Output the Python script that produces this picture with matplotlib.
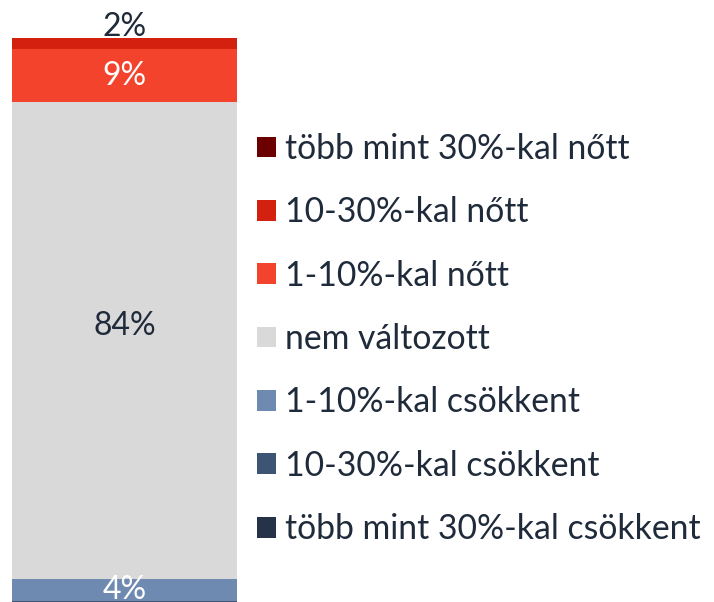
import matplotlib.pyplot as plt
from matplotlib.patches import Patch

# categories bottom -> top
cats = ["több mint 30%-kal csökkent", "10-30%-kal csökkent", "1-10%-kal csökkent",
        "nem változott", "1-10%-kal nőtt", "10-30%-kal nőtt", "több mint 30%-kal nőtt"]
vals = [0.0, 0.6, 3.9, 84.5, 9.4, 2.0, 0.0]
labels = ["", "", "4%", "84%", "9%", "2%", ""]
colors = ["#263248", "#3e5474", "#6f8ab1", "#d9d9d9", "#f4432c", "#d3200f", "#6b0000"]
txt_colors = ["white", "white", "white", "#1f2a3a", "white", "#1f2a3a", "white"]

plt.rcParams['font.family'] = ['Lato', 'DejaVu Sans']
fig = plt.figure(figsize=(7.14, 6.02), dpi=100)
ax = fig.add_axes([12 / 714, 0, 225 / 714, 1])

bottom = 0
for i, v in enumerate(vals):
    ax.bar(0, v, width=1, bottom=bottom, color=colors[i], linewidth=0)
    if labels[i]:
        if v < 3:
            # small segment: label sits above the bar
            ax.text(0, bottom + v + 0.25, labels[i], ha='center', va='baseline',
                    fontsize=23, color=txt_colors[i])
        else:
            yy = bottom + v / 2
            if v > 50:
                yy += 2.5
            ax.text(0, yy, labels[i], ha='center', va='center',
                    fontsize=23, color=txt_colors[i])
    bottom += v

ax.set_xlim(-0.5, 0.5)
ax.set_ylim(0.37, 107.1)
ax.axis('off')

handles = [Patch(facecolor=colors[i], label=cats[i]) for i in range(len(cats))][::-1]
fig.legend(handles=handles, loc='center left', bbox_to_anchor=(257 / 714, 1 - 339 / 602),
           frameon=False, fontsize=24.3, handlelength=0.57, handleheight=0.57,
           handletextpad=0.27, labelspacing=0.93, labelcolor='#1f2a3a',
           borderpad=0, borderaxespad=0)

fig.savefig("out.png", dpi=100)
